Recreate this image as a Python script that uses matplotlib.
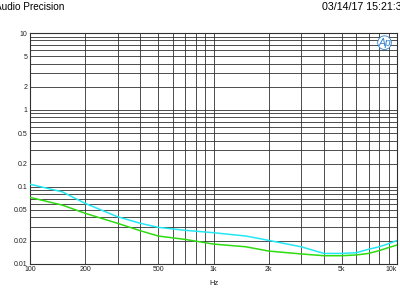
import matplotlib
matplotlib.use('Agg')
import matplotlib.pyplot as plt
from matplotlib.ticker import FixedLocator, NullFormatter, NullLocator

plt.rcParams['font.family'] = ['Liberation Sans', 'DejaVu Sans']

# readings from the plot (Hz, value)
freq = [100, 150, 200, 300, 400, 500, 700, 1000, 1500, 2000, 3000, 4000,
        5000, 6000, 7000, 8000, 9000, 10000]
cyan_vals = [0.108, 0.086, 0.0608, 0.0408, 0.0335, 0.0297, 0.0272, 0.0253,
             0.0229, 0.0201, 0.0166, 0.0136, 0.0136, 0.0139, 0.0154, 0.0166,
             0.0182, 0.0200]
green_vals = [0.0728, 0.0578, 0.0452, 0.0335, 0.0268, 0.0229, 0.0207, 0.018,
              0.0166, 0.0146, 0.0134, 0.0127, 0.0127, 0.013, 0.0136, 0.0148,
              0.0162, 0.0175]

x_ticks = [100, 200, 500, 1000, 2000, 5000, 10000]
x_labels = ['100', '200', '500', '1k', '2k', '5k', '10k']
y_ticks = [0.01, 0.02, 0.05, 0.1, 0.2, 0.5, 1, 2, 5, 10]
y_labels = ['0.01', '0.02', '0.05', '0.1', '0.2', '0.5', '1', '2', '5', '10']

fig = plt.figure(figsize=(4, 3), dpi=100)
ax = fig.add_axes([0.075, 0.121, 0.9175, 0.769])
ax.set_xscale('log')
ax.set_yscale('log')
ax.set_xlim(100, 10000)
ax.set_ylim(0.01, 10)

# full 1..9 grid per decade
xgrid = [m * 10 ** d for d in range(2, 4) for m in range(1, 10)]
ygrid = [m * 10.0 ** d for d in range(-2, 1) for m in range(1, 10)]
for g in xgrid:
    ax.axvline(g, color='#303030', lw=0.6, zorder=1)
for g in ygrid:
    ax.axhline(g, color='#303030', lw=0.6, zorder=1)

ax.plot(freq, cyan_vals, color='#22e8f5', lw=1.1, zorder=3)
ax.plot(freq, green_vals, color='#2edc10', lw=1.1, zorder=3)

ax.xaxis.set_major_locator(FixedLocator(x_ticks))
ax.set_xticklabels(x_labels)
ax.get_xticklabels()[-1].set_horizontalalignment('right')
ax.yaxis.set_major_locator(FixedLocator(y_ticks))
ax.set_yticklabels(y_labels)
ax.xaxis.set_minor_locator(NullLocator())
ax.yaxis.set_minor_locator(NullLocator())
ax.xaxis.set_minor_formatter(NullFormatter())
ax.yaxis.set_minor_formatter(NullFormatter())
ax.tick_params(length=0, labelsize=5, pad=2, colors='#202020')
for s in ax.spines.values():
    s.set_color('#303030')
    s.set_linewidth(0.8)

ax.set_xlabel('Hz', fontsize=5.5, labelpad=5, color='#202020')

fig.text(-0.013, 0.977, 'Audio Precision', fontsize=7.2, va='center', ha='left')
fig.text(0.806, 0.977, '03/14/17 15:21:36', fontsize=7.7, va='center', ha='left')

# AP logo
ax.text(0.966, 0.958, 'Ap', transform=ax.transAxes, fontsize=7.5, style='italic',
        color='#2f80d0', ha='center', va='center', zorder=5,
        bbox=dict(boxstyle='circle,pad=0.05', fc='white', ec='#2f80d0', lw=0.6))

fig.savefig('out.png', dpi=100)
